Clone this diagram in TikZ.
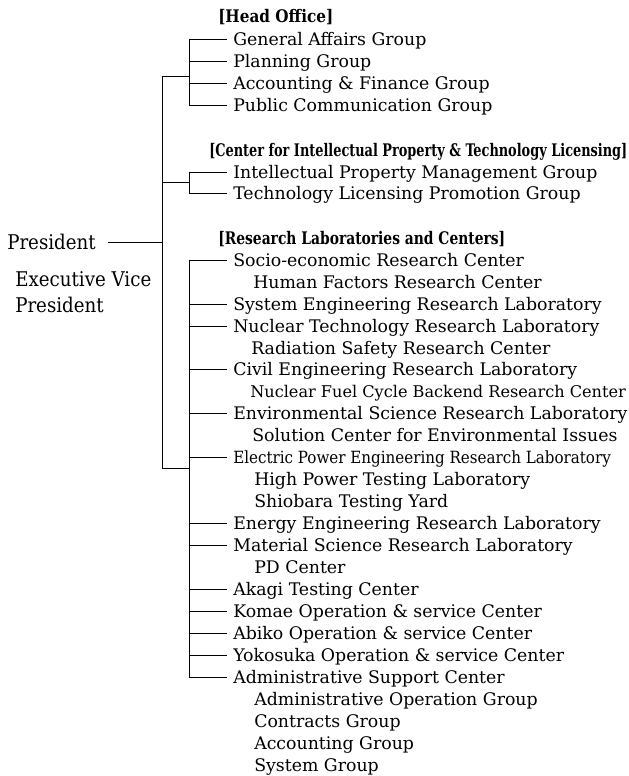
\documentclass[tikz,border=0pt]{standalone}
\usepackage{fontspec}
\usepackage{graphicx}
\setmainfont{DejaVu Serif}
\newfontfamily\condfont{DejaVu Serif Condensed}
\newdimen\pxu \pxu=0.75pt
\newcommand{\fitw}[2]{\resizebox{#1\pxu}{\height}{#2}}
\begin{document}
\begin{tikzpicture}[x=0.75pt,y=-0.75pt,
  base/.style={anchor=west,inner ysep=0pt,text depth=0pt},
  item/.style={base,inner xsep=4.5pt,text height=9.4pt,font=\fontsize{13}{15}\selectfont},
  subitem/.style={item},
  hdr/.style={base,inner xsep=0pt,text height=9.4pt,font=\bfseries\fontsize{13}{15}\selectfont},
  chdr/.style={base,inner xsep=0pt,text height=9.4pt,font=\condfont\bfseries\fontsize{13}{15}\selectfont},
  citem/.style={item,font=\condfont\fontsize{12.6}{15}\selectfont},
  smitem/.style={item,font=\fontsize{12.1}{15}\selectfont},
  presf/.style={base,font=\condfont\fontsize{15.2}{19.5}\selectfont},
  conn/.style={line width=0.75pt}]
\useasboundingbox (0,0) rectangle (629,776);
\fill[white] (0,0) rectangle (629,776);
% junction coordinates
\coordinate (spine) at (162,0);
\coordinate (bar) at (189,0);
\coordinate (jho) at (162,76);
\coordinate (jci) at (162,182);
\coordinate (jrl) at (162,468);
% left
\node[presf,inner xsep=9pt,text height=11pt] (pres) at (-5,242) {President};
\node[presf,inner sep=0pt,align=left] (evp) at (15,292) {Executive Vice\\President};
% head office
\node[hdr] (hoH) at (218,16) {\fitw{115}{[Head Office]}};
\node[item] (ho1) at (227,39) {General Affairs Group};
\node[item] (ho2) at (227,61) {Planning Group};
\node[item] (ho3) at (227,83) {Accounting \& Finance Group};
\node[item] (ho4) at (227,105) {Public Communication Group};
% center
\node[chdr] (ciH) at (209,150) {\fitw{418}{[Center for Intellectual Property \& Technology Licensing]}};
\node[item] (ci1) at (227,172) {Intellectual Property Management Group};
\node[item] (ci2) at (227,193) {Technology Licensing Promotion Group};
% research
\node[hdr] (rlH) at (218,238) {\fitw{287}{[Research Laboratories and Centers]}};
\node[item] (r1) at (227,260) {Socio-economic Research Center};
\node[subitem] (s1) at (247,282) {Human Factors Research Center};
\node[item] (r2) at (227,304) {System Engineering Research Laboratory};
\node[item] (r3) at (227,326) {Nuclear Technology Research Laboratory};
\node[subitem] (s2) at (245,348) {Radiation Safety Research Center};
\node[item] (r4) at (227,369) {Civil Engineering Research Laboratory};
\node[smitem] (s3) at (244,391) {Nuclear Fuel Cycle Backend Research Center};
\node[item] (r5) at (227,413) {Environmental Science Research Laboratory};
\node[subitem] (s4) at (246,435) {Solution Center for Environmental Issues};
\node[citem] (r6) at (227,457) {Electric Power Engineering Research Laboratory};
\node[subitem] (s5) at (248,479) {High Power Testing Laboratory};
\node[subitem] (s6) at (248,501) {Shiobara Testing Yard};
\node[item] (r7) at (227,523) {Energy Engineering Research Laboratory};
\node[item] (r8) at (227,545) {Material Science Research Laboratory};
\node[subitem] (s7) at (248,567) {PD Center};
\node[item] (r9) at (227,589) {Akagi Testing Center};
\node[item] (r10) at (227,611) {Komae Operation \& service Center};
\node[item] (r11) at (227,633) {Abiko Operation \& service Center};
\node[item] (r12) at (227,655) {Yokosuka Operation \& service Center};
\node[item] (r13) at (227,677) {Administrative Support Center};
\node[subitem] (s8) at (248,699) {Administrative Operation Group};
\node[subitem] (s9) at (248,721) {Contracts Group};
\node[subitem] (s10) at (248,743) {Accounting Group};
\node[subitem] (s11) at (248,765) {System Group};
% connectors
\draw[conn] (pres.east) -- (pres.east -| spine);
\draw[conn] (jho) -- (jrl);
\draw[conn] (jho) -- (jho -| bar);
\draw[conn] (jci) -- (jci -| bar);
\draw[conn] (jrl) -- (jrl -| bar);
\draw[conn] (ho1.west -| bar) -- (ho4.west -| bar);
\draw[conn] (ci1.west -| bar) -- (ci2.west -| bar);
\draw[conn] (r1.west -| bar) -- (r13.west -| bar);
\foreach \n in {ho1,ho2,ho3,ho4,ci1,ci2,r1,r2,r3,r4,r5,r6,r7,r8,r9,r10,r11,r12,r13}
  \draw[conn] (\n.west -| bar) -- (\n.west);
\end{tikzpicture}
\end{document}
